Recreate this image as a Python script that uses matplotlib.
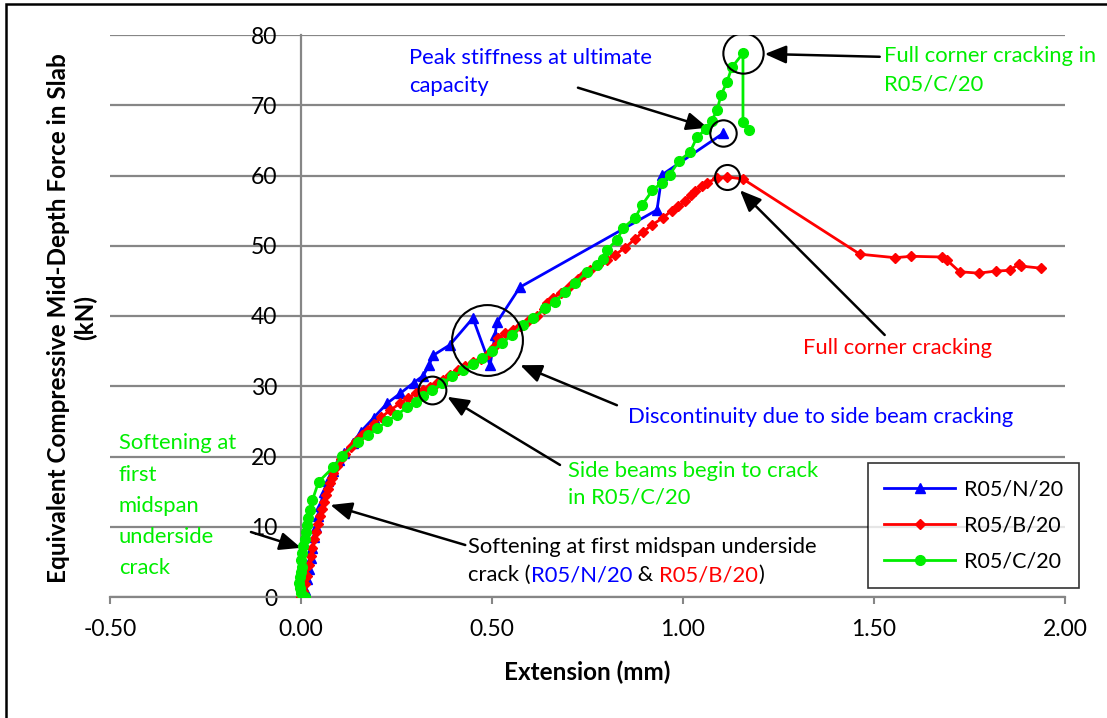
import matplotlib.pyplot as plt
import numpy as np

plt.rcParams['font.family'] = ['Lato', 'DejaVu Sans']

# R05/N/20
n_x = [0.005, 0.01, 0.015, 0.02, 0.025, 0.03, 0.035, 0.04, 0.045, 0.05, 0.06, 0.07, 0.085, 0.1, 0.112,
       0.135, 0.156, 0.19, 0.226, 0.26, 0.295, 0.32, 0.335, 0.346, 0.39, 0.45, 0.495, 0.508, 0.513,
       0.573, 0.932, 0.945, 1.105]
n_y = [0, 1, 2.5, 4, 5.5, 7, 8.5, 10, 11.5, 13, 15, 16.5, 18, 19.5, 20.5,
       21.9, 23.5, 25.5, 27.6, 29.0, 30.5, 31.5, 33.0, 34.4, 35.9, 39.7, 33.0, 37.3, 39.1,
       44.1, 55.1, 60.1, 66.0]

# R05/B/20
b_x = [0.0, 0.005, 0.01, 0.015, 0.02, 0.025, 0.03, 0.035, 0.04, 0.045, 0.05, 0.055, 0.06, 0.065, 0.07,
       0.075, 0.08, 0.085, 0.095, 0.105, 0.115, 0.13, 0.145, 0.16, 0.175, 0.19, 0.21, 0.234, 0.26,
       0.28, 0.30, 0.32, 0.339, 0.355, 0.372, 0.39, 0.41, 0.43, 0.45, 0.47, 0.49, 0.505, 0.515, 0.535,
       0.555, 0.574, 0.595, 0.618, 0.635, 0.645, 0.66, 0.68, 0.697, 0.71, 0.725, 0.74, 0.757, 0.778,
       0.80, 0.822, 0.848, 0.875, 0.896, 0.92, 0.948, 0.97, 0.987, 1.005, 1.02, 1.032, 1.05, 1.063,
       1.089, 1.115, 1.157, 1.463, 1.555, 1.598, 1.677, 1.69, 1.724, 1.774, 1.82, 1.855, 1.88, 1.886,
       1.938]
b_y = [0, 0.8, 1.8, 3, 4.5, 5.8, 7, 8.2, 9.3, 10.4, 11.5, 12.5, 13.5, 14.5, 15.4,
       16.2, 17, 17.7, 18.7, 19.6, 20.4, 21.3, 22.2, 23.0, 23.8, 24.6, 25.6, 26.6, 27.6,
       28.3, 29.0, 29.5, 29.9, 30.4, 30.9, 31.6, 32.3, 32.9, 33.4, 33.9, 34.6, 35.6, 36.8, 37.6,
       38.0, 38.6, 39.3, 40.0, 41.0, 41.8, 42.6, 43.3, 43.9, 44.6, 45.3, 46.0, 46.6, 47.3,
       48.0, 48.7, 49.7, 51.0, 52.0, 53.0, 54.0, 55.0, 55.6, 56.3, 57.2, 57.8, 58.5, 59.0,
       59.6, 59.8, 59.5, 48.8, 48.3, 48.5, 48.4, 48.0, 46.3, 46.1, 46.4, 46.5, 47.4, 47.1,
       46.8]

# R05/C/20
c_x = [0.005, 0.01, 0.0, -0.003, -0.004, -0.003, 0.0, 0.002, 0.0, 0.003, 0.006, 0.01, 0.013, 0.016,
       0.019, 0.023, 0.03, 0.046, 0.085, 0.108, 0.148, 0.175, 0.20, 0.225, 0.25, 0.278, 0.30, 0.32,
       0.344, 0.37, 0.395, 0.425, 0.45, 0.475, 0.50, 0.527, 0.553, 0.58, 0.608, 0.64, 0.665, 0.69,
       0.718, 0.749, 0.775, 0.79, 0.80, 0.827, 0.843, 0.875, 0.893, 0.92, 0.945, 0.965, 0.99, 1.018,
       1.037, 1.06, 1.075, 1.089, 1.10, 1.115, 1.128, 1.157, 1.157, 1.173]
c_y = [0, 0, 0.6, 1.3, 2.0, 2.8, 3.5, 4.3, 5.2, 6.2, 7.2, 8.2, 9.2, 10.2,
       11.2, 12.4, 13.8, 16.4, 18.5, 20.1, 22.1, 23.0, 24.0, 25.0, 25.9, 27.0, 27.8, 28.6,
       29.5, 30.4, 31.4, 32.3, 33.2, 34.0, 35.0, 36.2, 37.3, 38.7, 39.7, 41.1, 42.0, 43.4,
       44.7, 46.3, 47.2, 48.1, 49.4, 50.8, 52.5, 54.0, 55.8, 57.9, 59.0, 60.1, 62.1, 63.3,
       65.5, 66.6, 67.8, 69.3, 71.5, 73.3, 75.4, 77.4, 67.6, 66.5]

x_ticks = [-0.5, 0.0, 0.5, 1.0, 1.5, 2.0]
y_ticks = [0, 10, 20, 30, 40, 50, 60, 70, 80]

blue = '#0000ff'
red = '#ff0000'
green = '#00ee00'
grey = '#868686'

W, H = 1107, 718
fig = plt.figure(figsize=(W / 100, H / 100), dpi=100)
ax = fig.add_axes([110 / W, 1 - 597 / H, (1065 - 110) / W, (597 - 35) / H])

ax.plot(n_x, n_y, color=blue, lw=2, marker='^', ms=7.5, label='R05/N/20', zorder=3)
ax.plot(b_x, b_y, color=red, lw=2, marker='D', ms=5.5, label='R05/B/20', zorder=4)
ax.plot(c_x, c_y, color=green, lw=2, marker='o', ms=7, label='R05/C/20', zorder=5)

ax.set_xlim(-0.5, 2.0)
ax.set_ylim(0, 80)
ax.set_xticks(x_ticks)
ax.set_xticklabels(['%.2f' % v for v in x_ticks])
ax.set_yticks(y_ticks)
ax.set_yticklabels([str(v) for v in y_ticks])
ax.tick_params(axis='both', labelsize=16.5, colors=grey, labelcolor='black')
ax.tick_params(axis='x', length=5, width=1.5, pad=11)
ax.tick_params(axis='y', length=0, pad=17)

ax.grid(axis='y', color=grey, lw=1.6)
ax.set_axisbelow(True)
for s in ['top', 'right']:
    ax.spines[s].set_visible(False)
ax.spines['left'].set_position(('data', 0))
ax.spines['left'].set_color(grey)
ax.spines['left'].set_linewidth(1.6)
ax.spines['bottom'].set_color(grey)
ax.spines['bottom'].set_linewidth(1.6)

fig.text(587 / W, 1 - 672 / H, 'Extension (mm)', ha='center', va='center',
         fontsize=17.5, fontweight='bold')
fig.text(72 / W, 1 - 318 / H, 'Equivalent Compressive Mid-Depth Force in Slab\n(kN)',
         ha='center', va='center', rotation=90, fontsize=17.5, fontweight='bold',
         multialignment='center', linespacing=1.2)

leg = ax.legend(loc='upper left', bbox_to_anchor=(868 / W, 1 - 463 / H),
                bbox_transform=fig.transFigure, fontsize=15.5, frameon=True,
                fancybox=False, edgecolor='black', handlelength=3.3, labelspacing=0.75,
                borderpad=0.75, handletextpad=0.4, borderaxespad=0)
leg.get_frame().set_linewidth(1.2)

# circles around points of interest
circ = dict(marker='o', mfc='none', mec='black', mew=1.5, ls='none', zorder=6)
ax.plot(n_x[-1], n_y[-1], ms=19, **circ)
ax.plot(c_x[c_y.index(max(c_y))], max(c_y), ms=29, **circ)
ax.plot(b_x[b_y.index(max(b_y))], max(b_y), ms=18, **circ)
ax.plot(0.487, 36.6, ms=51, **circ)
ax.plot(0.344, 29.5, ms=20, **circ)

arrow = dict(arrowstyle='-|>,head_length=1.3,head_width=0.55', color='black', lw=1.8,
             shrinkA=0, shrinkB=0)
ax.annotate('', xy=(1.065, 66.8), xytext=(0.725, 72.5), arrowprops=arrow)
ax.annotate('', xy=(1.214, 77.3), xytext=(1.515, 76.9), arrowprops=arrow, annotation_clip=False)
ax.annotate('', xy=(1.149, 57.9), xytext=(1.528, 37.3), arrowprops=arrow)
ax.annotate('', xy=(0.574, 33.0), xytext=(0.827, 27.3), arrowprops=arrow)
ax.annotate('', xy=(0.383, 28.5), xytext=(0.678, 18.8), arrowprops=arrow)
ax.annotate('', xy=(0.077, 13.1), xytext=(0.43, 7.4), arrowprops=arrow)
ax.annotate('', xy=(0.0, 7.0), xytext=(-0.131, 9.25), arrowprops=arrow)

fs = 15.8
ax.text(0.284, 78.2, 'Peak stiffness at ultimate\ncapacity', color=blue, fontsize=fs,
        va='top', linespacing=1.55)
ax.text(1.525, 78.4, 'Full corner cracking in\nR05/C/20', color=green, fontsize=fs,
        va='top', linespacing=1.5, clip_on=False)
ax.text(1.314, 35.4, 'Full corner cracking', color=red, fontsize=fs, va='center')
ax.text(0.856, 25.6, 'Discontinuity due to side beam cracking', color=blue, fontsize=fs,
        va='center')
ax.text(0.70, 19.4, 'Side beams begin to crack\nin R05/C/20', color=green, fontsize=fs,
        va='top', linespacing=1.45)
ax.text(-0.477, 23.3, 'Softening at\nfirst\nmidspan\nunderside\ncrack', color=green,
        fontsize=fs, va='top', linespacing=1.7)

# two-line black note with coloured sample names
ax.text(0.438, 7.1, 'Softening at first midspan underside', color='black', fontsize=fs,
        va='center')
pieces = [('crack (', 'black'), ('R05/N/20', blue), (' & ', 'black'), ('R05/B/20', red),
          (')', 'black')]
fig.canvas.draw()
renderer = fig.canvas.get_renderer()
x_px = ax.transData.transform((0.438, 3.1))
for txt, col in pieces:
    t = fig.text(x_px[0] / W, x_px[1] / H, txt, color=col, fontsize=fs, va='center')
    bb = t.get_window_extent(renderer)
    x_px = (bb.x1, x_px[1])

# outer chart border
fig.patches.append(plt.Rectangle((6 / W, -0.1), 1.2, 1.1 - 4 / H, transform=fig.transFigure,
                                 fill=False, edgecolor='black', lw=1.8))

fig.savefig('out.png', dpi=100)
